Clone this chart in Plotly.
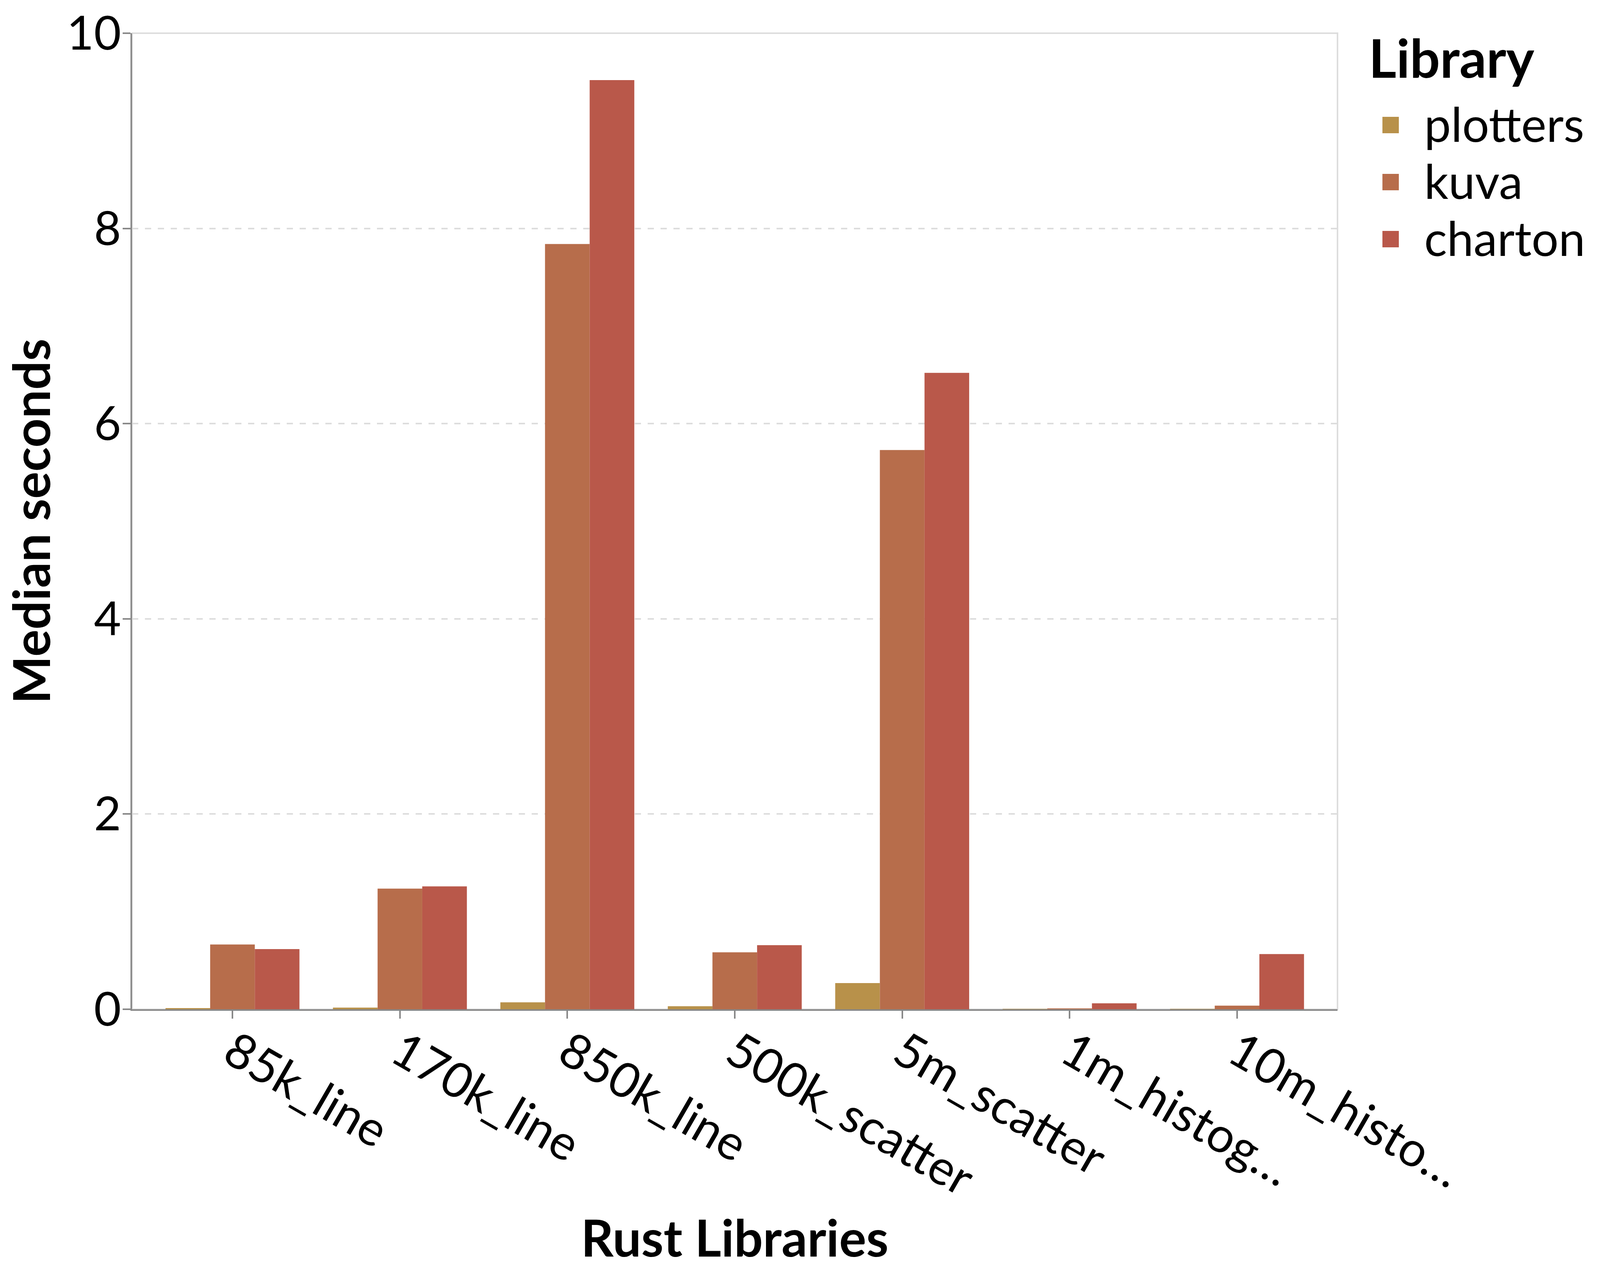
import plotly.graph_objects as go

# benchmark cases (x axis) and their shortened tick labels
cases = ["85k_line", "170k_line", "850k_line", "500k_scatter", "5m_scatter", "1m_histogram", "10m_histogram"]
case_labels = ["85k_line", "170k_line", "850k_line", "500k_scatter", "5m_scatter", "1m_histog…", "10m_histo…"]

libraries = ["plotters", "kuva", "charton"]
lib_colors = ["#B8914A", "#B76D4B", "#B9584A"]

# median seconds per library, one value per case
plotters = [0.012, 0.017, 0.071, 0.031, 0.268, 0.004, 0.004]
kuva = [0.664, 1.236, 7.84, 0.583, 5.73, 0.009, 0.037]
charton = [0.616, 1.259, 9.52, 0.657, 6.52, 0.061, 0.565]

series = [plotters, kuva, charton]

H = 3258
L, R, T, B = 338, 672, 85, 675
FONT = "Lato"


def px_y(py):
    # pixel row (from top of page) -> paper y
    return (H - B - py) / (H - T - B)


fig = go.Figure()

for name, vals, col in zip(libraries, series, lib_colors):
    fig.add_trace(
        go.Bar(
            x=cases, y=vals,
            name=name,
            marker=dict(color=col, line=dict(width=0)),
            showlegend=False,
        )
    )

# hand-made legend (pixel offsets from the right edge of the plot)
legend_rows = [320, 466, 612]
fig.add_annotation(
    x=1, xshift=78, y=px_y(146), xref="paper", yref="paper",
    text="<b>Library</b>", showarrow=False, xanchor="left", yanchor="middle",
    font=dict(family=FONT, size=136, color="black"),
)
for name, col, row in zip(libraries, lib_colors, legend_rows):
    fig.add_shape(
        type="rect", xref="paper", yref="paper",
        xsizemode="pixel", xanchor=1, x0=115, x1=157,
        y0=px_y(row - 21), y1=px_y(row + 21),
        fillcolor=col, line=dict(width=0),
    )
    fig.add_annotation(
        x=1, xshift=220, y=px_y(row - 4), xref="paper", yref="paper",
        text=name, showarrow=False, xanchor="left", yanchor="middle",
        font=dict(family=FONT, size=122, color="black"),
    )

# light frame around the plot area (top/right)
fig.add_shape(
    type="rect", xref="paper", yref="paper", x0=0, x1=1, y0=0, y1=1,
    line=dict(color="#dddddd", width=4), layer="below",
)

fig.update_layout(
    height=H, autosize=True,
    margin=dict(l=L, r=R, t=T, b=B),
    paper_bgcolor="white", plot_bgcolor="white",
    font=dict(family=FONT, color="black"),
    barmode="group", bargap=0.2, bargroupgap=0,
    showlegend=False,
)

fig.update_xaxes(
    range=[-0.6, 6.6],
    tickvals=cases, ticktext=case_labels,
    tickangle=30,
    tickfont=dict(family=FONT, size=124, color="black"),
    ticks="outside", ticklen=20, tickwidth=4, tickcolor="#888888",
    ticklabelstandoff=-35,
    showline=True, linecolor="#888888", linewidth=4,
    showgrid=False, zeroline=False,
    title=dict(text="<b>Rust Libraries</b>", font=dict(family=FONT, size=130, color="black"), standoff=40),
    automargin=False,
)

fig.update_yaxes(
    range=[0, 10],
    tickvals=[0, 2, 4, 6, 8, 10],
    tickfont=dict(family=FONT, size=120, color="black"),
    ticks="outside", ticklen=20, tickwidth=4, tickcolor="#888888",
    ticklabelstandoff=-20,
    showline=True, linecolor="#888888", linewidth=4,
    showgrid=True, gridcolor="#dddddd", gridwidth=4, griddash="16px,17px",
    zeroline=False,
    title=dict(text="<b>Median seconds</b>", font=dict(family=FONT, size=130, color="black"), standoff=82),
    automargin=False,
)

# fill the window width; drop the default body margin
fig.write_html(
    "out.html",
    config={"responsive": True, "displayModeBar": False},
    default_width="100%",
    post_script="document.body.style.margin='0px';"
                "Plotly.Plots.resize(document.getElementById('{plot_id}'));",
)
